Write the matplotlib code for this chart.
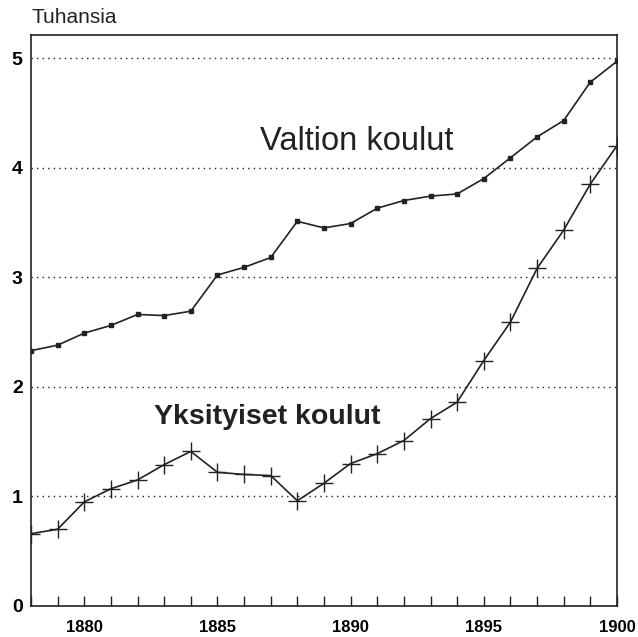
import matplotlib.pyplot as plt
import numpy as np

plt.rcParams['font.family'] = ['Liberation Sans', 'DejaVu Sans']

# Data (thousands of pupils)
years = np.arange(1878, 1901)
valtion = [2.33, 2.38, 2.49, 2.56, 2.66, 2.65, 2.69, 3.02, 3.09, 3.18, 3.51, 3.45,
           3.49, 3.63, 3.70, 3.74, 3.76, 3.90, 4.09, 4.28, 4.43, 4.78, 4.97]
yksityiset = [0.66, 0.70, 0.95, 1.07, 1.15, 1.29, 1.41, 1.22, 1.20, 1.19, 0.96, 1.12,
              1.30, 1.39, 1.51, 1.71, 1.86, 2.24, 2.59, 3.08, 3.43, 3.85, 4.20]
xticks = [1880, 1885, 1890, 1895, 1900]
yticks = [0, 1, 2, 3, 4, 5]

fig = plt.figure(figsize=(6.38, 6.37), dpi=100)
ax = fig.add_axes([0.0486, 0.0487, 0.9184, 0.8963])

ink = '#222222'

# dotted grid lines
for v in yticks[1:]:
    ax.axhline(v, color=ink, linestyle=(0, (1, 3)), linewidth=1.0, zorder=1)

ax.plot(years, valtion, color=ink, linewidth=1.2, marker='s', markersize=3.5, zorder=3)
ax.plot(years, yksityiset, color=ink, linewidth=1.2, marker='+', markersize=13,
        markeredgewidth=1.0, zorder=3)

ax.text(1886.6, 4.16, 'Valtion koulut', fontsize=23.5, color=ink)
ax.text(1882.6, 1.66, 'Yksityiset koulut', fontsize=20.5, fontweight='bold', color=ink)

ax.set_xlim(1878, 1900)
ax.set_ylim(0, 5.21)

ax.set_xticks(years, minor=True)
ax.set_xticks(xticks)
ax.set_xticklabels([str(x) for x in xticks], fontsize=12, fontweight='bold')
ax.tick_params(axis='x', which='both', direction='in', length=7, width=1.0,
               color=ink, pad=10)
ax.set_yticks(yticks)
ax.set_yticklabels([str(y) for y in yticks], fontsize=14, fontweight='bold')
ax.tick_params(axis='y', length=0, pad=6)

for s in ax.spines.values():
    s.set_color(ink)
    s.set_linewidth(1.2)

fig.text(0.05, 0.964, 'Tuhansia', fontsize=15, color=ink)

fig.savefig('out.png', dpi=100)
